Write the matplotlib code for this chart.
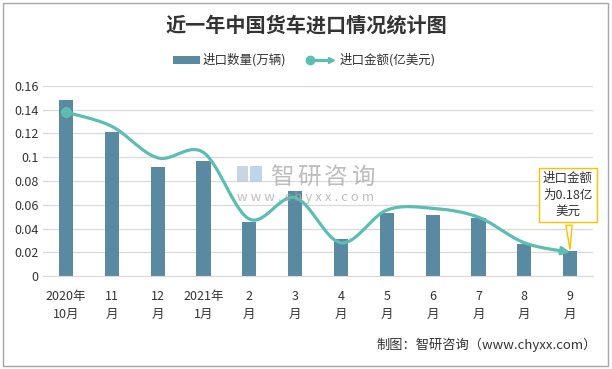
import matplotlib.pyplot as plt
import numpy as np
from matplotlib.patches import Rectangle
from matplotlib.lines import Line2D

plt.rcParams['font.family'] = ['Noto Sans CJK SC', 'DejaVu Sans']

months = ["2020年\n10月", "11\n月", "12\n月", "2021年\n1月", "2\n月", "3\n月",
          "4\n月", "5\n月", "6\n月", "7\n月", "8\n月", "9\n月"]
quantity = [0.148, 0.1215, 0.092, 0.097, 0.0455, 0.0715,
            0.031, 0.053, 0.0515, 0.049, 0.027, 0.021]
amount = [0.138, 0.126, 0.0995, 0.104, 0.048, 0.066,
          0.028, 0.0555, 0.057, 0.0495, 0.028, 0.020]

bar_color = "#5a8aa2"
line_color = "#5cbdb2"


def smooth(xs, ys, n=30):
    # excel style smoothed line (catmull-rom as bezier)
    xs = np.asarray(xs, float)
    ys = np.asarray(ys, float)
    px, py = [], []
    for i in range(len(xs) - 1):
        i0, i3 = max(i - 1, 0), min(i + 2, len(xs) - 1)
        c1x = xs[i] + (xs[i + 1] - xs[i0]) / 6
        c1y = ys[i] + (ys[i + 1] - ys[i0]) / 6
        c2x = xs[i + 1] - (xs[i3] - xs[i]) / 6
        c2y = ys[i + 1] - (ys[i3] - ys[i]) / 6
        t = np.linspace(0, 1, n)
        px.extend((1-t)**3*xs[i] + 3*(1-t)**2*t*c1x + 3*(1-t)*t**2*c2x + t**3*xs[i+1])
        py.extend((1-t)**3*ys[i] + 3*(1-t)**2*t*c1y + 3*(1-t)*t**2*c2y + t**3*ys[i+1])
    return np.array(px), np.array(py)


fig = plt.figure(figsize=(6.12, 3.69), dpi=100)
ax = fig.add_axes([0.0703, 0.252, 0.8987, 0.515])

x = np.arange(len(months))
ax.bar(x, quantity, width=0.31, color=bar_color, zorder=2)

sx, sy = smooth(x, amount)
ax.plot(sx[:-4], sy[:-4], color=line_color, lw=2.3, zorder=3, solid_capstyle="round")
ax.annotate("", xy=(sx[-1], sy[-1]), xytext=(sx[-6], sy[-6]),
            arrowprops=dict(arrowstyle="-|>", color=line_color, lw=2.3,
                            mutation_scale=11, shrinkA=0, shrinkB=0), zorder=3)
ax.plot(x[0], amount[0], "o", color=line_color, ms=7, zorder=4)

ax.set_xlim(-0.5, len(months) - 0.5)
ax.set_ylim(0, 0.16)
ax.set_yticks(np.arange(0, 0.161, 0.02))
ax.set_yticklabels(["0", "0.02", "0.04", "0.06", "0.08", "0.1", "0.12", "0.14", "0.16"])
ax.set_xticks(x)
ax.set_xticklabels(months, linespacing=1.55)
ax.tick_params(axis="both", length=0, labelsize=9, colors="#333333")
ax.tick_params(axis="x", pad=10)
ax.tick_params(axis="y", pad=3)
ax.grid(axis="y", color="#d9d9d9", lw=0.9, zorder=0)
for s in ["top", "right", "left"]:
    ax.spines[s].set_visible(False)
ax.spines["bottom"].set_color("#d9d9d9")

# callout
ax.annotate("进口金额\n为0.18亿\n美元", xy=(x[-1], amount[-1]), xytext=(x[-1] - 0.05, 0.068),
            ha="center", va="center", fontsize=9, color="#333333", linespacing=1.35,
            bbox=dict(boxstyle="square,pad=0.3", fc="white", ec="#ffc000", lw=1),
            arrowprops=dict(arrowstyle="wedge,tail_width=0.5", fc="white", ec="#ffc000", lw=1),
            zorder=6)

# watermark
for i, ch in enumerate("智研咨询"):
    fig.text((281.6 + 27.25 * i) / 612, 1 - 177 / 369, ch, fontsize=17, color="#a8a8a8",
             alpha=0.75, ha="center", va="center")
fig.text(306 / 612, 1 - 198 / 369, "w w w . c h y x x . c o m", fontsize=9.5,
         color="#a8a8a8", alpha=0.75, ha="center", va="center")
fig.patches.append(Rectangle((237 / 612, 1 - 182 / 369), 11 / 612, 16 / 369,
                             transform=fig.transFigure, fc="#b8c8dc", ec="none", alpha=0.75))
fig.patches.append(Rectangle((250 / 612, 1 - 182 / 369), 12 / 612, 16 / 369,
                             transform=fig.transFigure, fc="#a9c8e8", ec="none", alpha=0.75))

# title and legend
fig.text(306 / 612, 1 - 25 / 369, "近一年中国货车进口情况统计图", fontsize=14.5,
         fontweight="bold", color="#333333", ha="center", va="center")
ly = 1 - 60 / 369
fig.patches.append(Rectangle((173 / 612, ly - 4 / 369), 27 / 612, 8 / 369,
                             transform=fig.transFigure, fc=bar_color, ec="none"))
fig.text(203 / 612, ly, "进口数量(万辆)", fontsize=9, color="#333333", va="center")
fig.lines.append(Line2D([310 / 612, 330 / 612], [ly, ly], transform=fig.transFigure,
                        color=line_color, lw=2.3))
fig.lines.append(Line2D([310 / 612], [ly], transform=fig.transFigure, marker="o",
                        color=line_color, ms=6))
fig.lines.append(Line2D([331 / 612], [ly], transform=fig.transFigure, marker=">",
                        color=line_color, ms=5))
fig.text(340 / 612, ly, "进口金额(亿美元)", fontsize=9, color="#333333", va="center")

fig.text(597 / 612, 1 - 345 / 369, "制图：智研咨询（www.chyxx.com）", fontsize=9.5,
         color="#333333", ha="right", va="center")

fig.patches.append(Rectangle((0.005, 0.008), 0.989, 0.984, transform=fig.transFigure,
                             fc="none", ec="#a6a6a6", lw=1))

fig.savefig("out.png", dpi=100)
